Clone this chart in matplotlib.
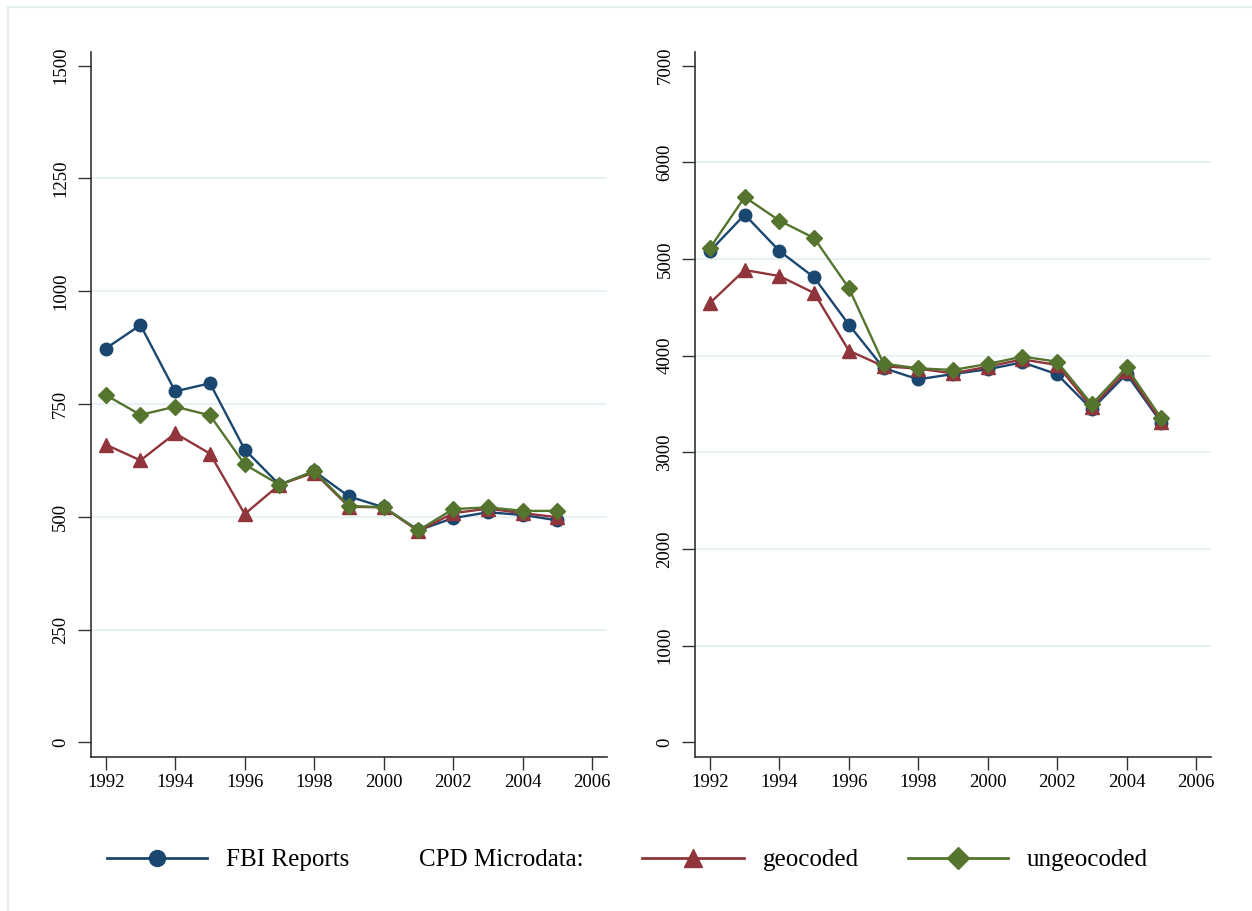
import numpy as np
import matplotlib.pyplot as plt
from matplotlib.lines import Line2D
from matplotlib.patches import Rectangle

plt.rcParams['font.family'] = ['Liberation Serif', 'DejaVu Serif']

# data
years = np.arange(1992, 2006)

fbi_l = [873, 925, 778, 796, 649, 571, 601, 545, 521, 470, 497, 510, 504, 492]
geo_l = [660, 625, 685, 640, 506, 571, 598, 522, 521, 468, 508, 518, 508, 499]
ungeo_l = [770, 726, 744, 725, 616, 571, 601, 524, 521, 470, 517, 521, 513, 513]

fbi_r = [5083, 5459, 5083, 4810, 4321, 3872, 3755, 3810, 3859, 3931, 3807, 3445, 3810, 3307]
geo_r = [4545, 4886, 4824, 4648, 4052, 3890, 3866, 3817, 3886, 3962, 3903, 3466, 3845, 3317]
ungeo_r = [5114, 5641, 5397, 5217, 4700, 3917, 3869, 3852, 3914, 3990, 3938, 3497, 3879, 3352]

xticks = np.arange(1992, 2007, 2)
yticks_l = np.arange(0, 1501, 250)
yticks_r = np.arange(0, 7001, 1000)

labels = ['FBI Reports', 'geocoded', 'ungeocoded']
colors = ['#1a476f', '#90353b', '#55752f']
markers = ['o', '^', 'D']
msizes = [9, 10, 8]
leg_msizes = [11.5, 12.5, 11]

W, H = 1252, 911
fig = plt.figure(figsize=(W / 100, H / 100), dpi=100)
fig.add_artist(Rectangle((7.5 / W, -0.1), 1.2, 1.1 - 7.5 / H, transform=fig.transFigure,
                         fill=False, edgecolor='#e6edf0', lw=1.5))

ax1 = fig.add_axes([90.7 / W, 154.3 / H, 516.3 / W, 705 / H])
ax2 = fig.add_axes([695 / W, 154.3 / H, 515.7 / W, 705 / H])


def panel(ax, series, yticks):
    top = yticks[-1]
    span = top / (676.6 / 705)
    pad_top = span * 14 / 705
    pad_bot = span * 14.4 / 705
    for yt in yticks[1:-1]:
        ax.axhline(yt, color='#eaf1f3', lw=1.6, zorder=0)
    for vals, c, m, ms in zip(series, colors, markers, msizes):
        ax.plot(years, vals, color=c, marker=m, markersize=ms, lw=1.7,
                markeredgecolor=c)
    ax.set_xlim(1992 - 0.432, 2006 + 0.425)
    ax.set_ylim(-pad_bot, top + pad_top)
    ax.set_xticks(xticks)
    ax.set_yticks(yticks)
    for s in ['top', 'right']:
        ax.spines[s].set_visible(False)
    for s in ['left', 'bottom']:
        ax.spines[s].set_color('#333333')
        ax.spines[s].set_linewidth(1.2)
    ax.tick_params(axis='both', length=9.5, width=1, color='#333333', labelsize=13.5)
    ax.tick_params(axis='x', pad=3)
    ax.tick_params(axis='y', pad=6, labelrotation=90)
    for t in ax.get_yticklabels():
        t.set_va('center')


panel(ax1, [fbi_l, geo_l, ungeo_l], yticks_l)
panel(ax2, [fbi_r, geo_r, ungeo_r], yticks_r)

# legend drawn along the bottom
ly = (H - 858) / H
keys = [(107, 207, 226), (642, 744, 763), (908, 1008, 1027)]
for (x0, x1, xt), lab, c, m, ms in zip(keys, labels, colors, markers, leg_msizes):
    fig.add_artist(Line2D([x0 / W, x1 / W], [ly, ly], transform=fig.transFigure,
                          color=c, lw=2))
    fig.add_artist(Line2D([(x0 + x1) / 2 / W], [ly], transform=fig.transFigure,
                          color=c, marker=m, markersize=ms, markeredgecolor=c))
    fig.text(xt / W, ly - 2 / H, lab, fontsize=18, va='center', ha='left')
fig.text(419 / W, ly - 2 / H, 'CPD Microdata:', fontsize=18, va='center', ha='left')

fig.savefig('out.png', dpi=100)
